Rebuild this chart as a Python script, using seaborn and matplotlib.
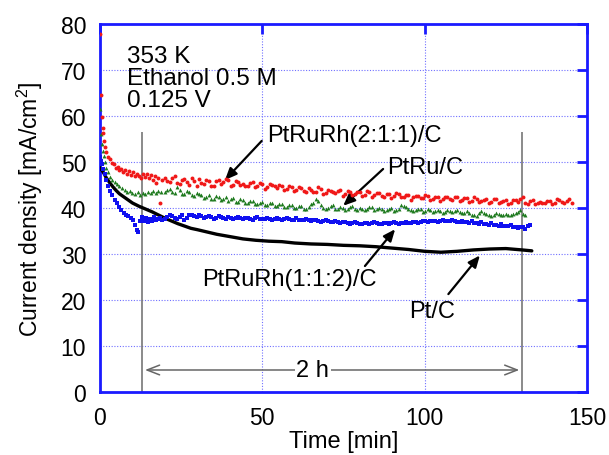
import numpy as np
import pandas as pd
import matplotlib
matplotlib.use("Agg")
import matplotlib.pyplot as plt
import seaborn as sns

# ---------------- data ----------------
red_head_t = [0, 0.3, 0.5, 0.8, 1.0, 1.3, 1.6, 2.0, 2.5, 3.0, 3.6, 4.2, 4.8, 5.4, 6.0, 6.6, 7.2, 7.8,
              8.4, 9.0, 9.6, 10.2, 10.8, 11.4, 12.0, 12.6, 13.2, 13.8, 14.4, 15.0, 15.6, 16.2, 16.8,
              17.4, 18.0, 18.5, 19.0]
red_head_y = [77.8, 64.5, 59.8, 57.5, 56.3, 54.5, 53.3, 52.2, 51.0, 50.6, 49.8, 49.6, 48.7, 49.0, 48.2,
              48.6, 47.8, 48.3, 47.4, 48.0, 47.2, 47.8, 46.9, 47.5, 47.0, 46.6, 47.4, 46.8, 47.3, 46.5,
              47.1, 46.0, 46.9, 45.4, 46.6, 41.0, 46.1]
red_body_y = [46.5, 45.6, 46.9, 45.2, 46.3, 45.0, 45.9, 46.4, 45.3, 45.8, 44.9, 46.2, 45.6, 46.0, 45.1,
              45.7, 45.3, 44.8, 45.6, 44.9, 45.2, 44.5, 45.0, 44.3, 44.9, 44.1, 44.6, 43.9, 44.4, 43.5,
              44.0, 43.4, 44.1, 43.3, 43.8, 43.2, 43.9, 43.1, 43.6, 43.0, 43.5, 42.8, 43.4, 42.9, 43.2,
              42.5, 43.1, 42.6, 43.0, 42.3, 42.9, 42.4, 42.7, 42.1, 42.6, 42.0, 42.5, 41.9, 42.4, 41.8,
              42.3, 41.7, 42.2, 41.6, 42.0, 41.5, 41.9, 41.4, 41.9, 41.3, 41.8, 41.2, 41.7, 41.9, 41.0,
              41.5, 40.9, 41.4, 41.0, 41.6, 41.1, 41.7, 41.2, 41.9]
red_body2_y = [45.8, 46.6, 45.4, 46.0, 45.7, 46.5, 44.8, 45.5, 46.1, 44.9, 45.9, 45.2, 46.3, 44.9, 45.8,
               45.0, 44.7, 45.5, 44.6, 45.4, 44.2, 45.3, 44.8, 45.1, 43.9, 44.7, 43.8, 44.6, 43.7, 44.3,
               43.6, 44.5, 43.0, 44.0, 43.4, 43.7, 42.7, 43.8, 42.9, 43.6, 42.6, 43.7, 42.4, 43.3, 42.7,
               43.0, 42.2, 43.2, 42.5, 42.8, 41.8, 42.6, 42.2, 42.8, 41.7, 42.4, 41.6, 42.3, 41.9, 42.5,
               41.5, 42.1, 41.4, 42.3, 41.3, 41.8, 41.1, 42.0, 41.2, 41.6, 40.9, 41.8, 41.4, 42.5, 40.8,
               41.7, 41.2, 41.0, 41.5, 40.8, 41.9, 41.3, 41.5, 41.0]

green_head_t = [0, 0.3, 0.5, 0.8, 1.1, 1.5, 2.0, 2.6, 3.2, 3.8, 4.5, 5.2, 6.0, 6.8, 7.6, 8.4, 9.2, 10.0,
                10.8, 11.6, 12.4, 13.2, 14.0, 14.8, 15.6, 16.4, 17.2, 18.0, 18.8]
green_head_y = [61.5, 56.0, 54.0, 52.5, 51.4, 50.0, 48.8, 47.8, 46.8, 46.2, 45.6, 45.3, 44.9, 44.3, 44.0,
                43.5, 43.8, 43.3, 43.0, 43.4, 42.9, 43.3, 43.0, 43.6, 43.2, 43.7, 43.3, 43.8, 43.4]
green_body_y = [43.6, 44.2, 43.3, 43.9, 43.1, 43.5, 42.6, 43.0, 42.2, 42.8, 41.9, 42.5, 42.0, 41.6, 42.2,
                41.3, 41.8, 41.0, 41.5, 40.8, 41.3, 40.6, 41.1, 40.4, 40.9, 40.2, 40.7, 40.0, 40.5, 39.9,
                40.8, 41.9, 40.6, 39.8, 40.4, 39.7, 40.2, 39.6, 40.3, 39.7, 40.1, 39.5, 40.2, 39.6, 40.0,
                39.4, 39.9, 39.3, 39.8, 40.5, 39.9, 39.4, 39.9, 39.2, 39.7, 39.1, 39.6, 39.0, 39.5, 39.1,
                39.6, 38.9, 39.4, 38.6, 38.2, 39.3, 38.7, 38.3, 38.9, 38.5, 38.8, 38.4, 38.9, 39.6, 38.5]
green_body2_y = [43.9, 43.5, 44.6, 43.0, 43.7, 42.8, 43.2, 42.9, 42.5, 42.0, 42.6, 41.7, 42.3, 41.9, 41.4,
                 42.0, 41.2, 41.6, 40.9, 41.2, 40.7, 41.0, 40.5, 40.8, 40.3, 40.6, 40.1, 40.4, 39.8, 40.3,
                 41.2, 41.5, 40.1, 40.0, 40.6, 39.9, 40.1, 39.8, 40.4, 39.5, 39.9, 39.8, 40.3, 39.7, 39.7,
                 39.6, 40.0, 39.5, 40.6, 40.2, 39.6, 39.5, 39.8, 39.4, 39.5, 39.3, 39.4, 39.2, 39.3, 39.4,
                 39.2, 39.0, 38.9, 38.4, 38.9, 39.0, 38.5, 38.6, 38.7, 38.6, 38.5, 38.7, 39.2, 38.8]

blue_head_t = [0, 0.3, 0.6, 1.0, 1.5, 2.0, 2.6, 3.2, 3.8, 4.5, 5.2, 5.9, 6.6, 7.3, 8.0, 8.7, 9.4, 10.1,
               10.8, 11.3, 11.8, 12.4, 13.0, 13.6, 14.2, 14.8, 15.4, 16.0, 16.6, 17.2, 17.8, 18.4, 19.0]
blue_head_y = [51.0, 50.3, 49.5, 48.5, 47.4, 46.0, 44.9, 43.8, 42.9, 41.8, 41.0, 40.3, 39.6, 39.0, 38.6,
               38.2, 37.9, 37.5, 36.3, 35.2, 34.8, 37.2, 38.0, 37.2, 37.8, 37.0, 37.6, 37.2, 38.0, 37.3,
               37.6, 37.9, 37.4]
blue_body_y = [37.6, 38.4, 37.8, 38.1, 37.5, 38.6, 38.2, 38.5, 37.9, 38.3, 37.7, 38.2, 37.8, 38.0, 37.6,
               38.1, 37.7, 37.9, 37.5, 38.0, 37.6, 37.9, 37.4, 37.8, 37.5, 37.9, 37.4, 37.8, 37.3, 37.7,
               37.2, 37.5, 37.0, 37.3, 36.9, 37.2, 36.8, 37.0, 36.6, 36.9, 36.5, 36.8, 36.6, 36.9, 36.5,
               36.8, 36.6, 36.9, 36.6, 36.8, 36.7, 37.0, 36.8, 37.1, 36.9, 37.2, 37.0, 37.3, 37.1, 37.3,
               37.0, 37.2, 36.9, 37.1, 36.7, 36.9, 36.5, 36.7, 36.3, 36.5, 36.1, 36.3, 35.9, 35.8, 35.5,
               36.4]
blue_body2_y = [38.0, 38.2, 37.6, 38.4, 37.9, 38.4, 38.0, 38.3, 38.1, 38.0, 37.9, 38.0, 37.6, 37.9, 37.8,
                37.9, 37.8, 37.7, 37.8, 37.7, 37.7, 37.6, 37.6, 37.6, 37.7, 37.6, 37.5, 37.5, 37.4, 37.5,
                37.3, 37.2, 37.1, 37.1, 37.0, 37.0, 36.9, 36.7, 36.7, 36.7, 36.6, 36.7, 36.7, 36.7, 36.6,
                36.7, 36.8, 36.7, 36.7, 36.9, 36.8, 37.0, 37.0, 37.1, 37.1, 37.2, 37.1, 37.2, 37.1, 37.1,
                37.0, 37.0, 36.8, 36.8, 36.6, 36.6, 36.4, 36.4, 36.2, 36.2, 36.0, 35.9, 35.7, 35.9, 36.2]

body_start = 20.0
body2_start = 20.75
body_step = 1.5

pt_t = [0, 1, 2, 3, 4, 5, 6, 7, 8, 9, 10, 12, 14, 16, 18, 20, 22, 24, 26, 28, 30, 33, 36, 40, 44, 48,
        52, 56, 60, 65, 70, 75, 80, 85, 90, 95, 100, 105, 110, 115, 120, 125, 130, 133]
pt_y = [48.8, 47.8, 46.5, 45.5, 44.6, 43.8, 43.1, 42.6, 42.1, 41.6, 41.1, 40.4, 39.8, 39.2, 38.5, 37.8,
        37.2, 36.6, 36.1, 35.6, 35.3, 34.8, 34.3, 33.8, 33.3, 33.0, 32.8, 32.7, 32.4, 32.2, 32.1, 31.9,
        31.8, 31.6, 31.3, 31.0, 30.6, 30.4, 30.6, 30.9, 31.1, 31.2, 30.9, 30.7]

labels = ["PtRuRh(2:1:1)/C", "PtRu/C", "PtRuRh(1:1:2)/C", "Pt/C"]
conditions = "353 K\nEthanol 0.5 M\n0.125 V"


def series(head_t, head_y, body_y, body2_y):
    t = (list(head_t)
         + list(body_start + body_step * np.arange(len(body_y)))
         + list(body2_start + body_step * np.arange(len(body2_y))))
    return pd.DataFrame({"t": t, "j": list(head_y) + list(body_y) + list(body2_y)})


red_df = series(red_head_t, red_head_y, red_body_y, red_body2_y)
green_df = series(green_head_t, green_head_y, green_body_y, green_body2_y)
blue_df = series(blue_head_t, blue_head_y, blue_body_y, blue_body2_y)
pt_df = pd.DataFrame({"t": pt_t, "j": pt_y})

# ---------------- style ----------------
sns.set_style("white")
plt.rcParams["font.family"] = ["Liberation Sans", "DejaVu Sans"]
plt.rcParams["mathtext.default"] = "regular"
plt.rcParams["text.color"] = "black"
plt.rcParams["axes.labelcolor"] = "black"

BLUE_AX = "#1a1aff"
fig = plt.figure(figsize=(6.09, 4.56), dpi=100)
ax = fig.add_axes([0.1642, 0.138, 0.7997, 0.807])

sns.lineplot(data=pt_df, x="t", y="j", ax=ax, color="black", lw=2.4, zorder=3)
sns.scatterplot(data=blue_df, x="t", y="j", ax=ax, color="#1010f0", marker="s", s=7, linewidth=0, zorder=4)
sns.scatterplot(data=green_df, x="t", y="j", ax=ax, color="#1e7a1e", marker="^", s=8, linewidth=0, zorder=4)
sns.scatterplot(data=red_df, x="t", y="j", ax=ax, color="#f01818", marker="o", s=8, linewidth=0, zorder=5)

ax.set_xlim(0, 150)
ax.set_ylim(0, 80)
ax.set_xticks([0, 50, 100, 150])
ax.set_yticks(range(0, 81, 10))
ax.grid(True, color="#7070ff", linestyle=(0, (1, 1.5)), lw=0.8)
ax.set_axisbelow(True)

for sp in ax.spines.values():
    sp.set_color(BLUE_AX)
    sp.set_linewidth(2)
ax.tick_params(direction="in", length=7, width=2, color=BLUE_AX, top=True, right=True,
               labelcolor="black", pad=10, labelsize=16.5)

ax.set_xlabel("Time [min]", fontsize=17, labelpad=1, color="black")
ax.set_ylabel("Current density [mA/cm$^2$]", fontsize=16.5, labelpad=11, color="black")

# conditions text
ax.text(8.2, 75.4, conditions, fontsize=17.5, ha="left", va="top", linespacing=1.0, color="black")

# 2 h markers
ax.vlines([13, 130], 0, 56.6, color="#777777", lw=1.2, zorder=2)
ax.annotate("", xy=(13, 4.8), xytext=(130, 4.8),
            arrowprops=dict(arrowstyle="<->,head_length=0.9,head_width=0.35", color="#666666", lw=1.1))
ax.text(65.5, 4.8, "2 h", fontsize=17, ha="center", va="center", color="black",
        bbox=dict(facecolor="white", edgecolor="none", pad=1), zorder=6)

# labels with arrows
arrow = dict(arrowstyle="-|>,head_length=0.7,head_width=0.3", color="black", lw=1.6, shrinkA=0, shrinkB=0)
ax.text(78.2, 55.9, labels[0], fontsize=17, ha="center", va="center", color="black")
ax.annotate("", xy=(38.5, 46.1), xytext=(49.8, 54.6), arrowprops=arrow)
ax.text(100, 48.9, labels[1], fontsize=17, ha="center", va="center", color="black")
ax.annotate("", xy=(74.9, 40.5), xytext=(87.2, 48.5), arrowprops=arrow)
ax.text(58.2, 24.6, labels[2], fontsize=17, ha="center", va="center", color="black")
ax.annotate("", xy=(90.9, 35.4), xytext=(81.6, 27.4), arrowprops=arrow)
ax.text(102.4, 17.7, labels[3], fontsize=17, ha="center", va="center", color="black")
ax.annotate("", xy=(117, 29.7), xytext=(107.3, 21.3), arrowprops=arrow)

fig.savefig("out.png", dpi=100)
